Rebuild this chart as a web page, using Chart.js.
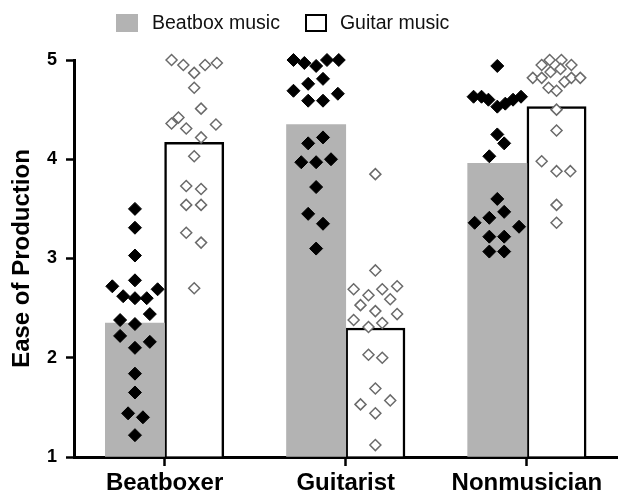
<!DOCTYPE html>
<html>
<head>
<meta charset="utf-8">
<script src="https://cdn.jsdelivr.net/npm/chart.js@4.4.1/dist/chart.umd.min.js"></script>
<style>
  html, body { margin: 0; padding: 0; background: #fff; overflow: hidden; }
  #wrap { position: relative; width: 625px; height: 498px; }
  #legend {
    position: absolute; left: 116px; top: 11px; display: flex; align-items: center;
    font-family: "Liberation Sans", Arial, sans-serif; font-size: 19.5px; color: #111;
  }
  .box { width: 22px; height: 18px; box-sizing: border-box; margin-right: 14px; }
  .gray { background: #b3b3b3; }
  .white { background: #fff; border: 2px solid #000; margin-left: 25px; margin-right: 13px; }
</style>
</head>
<body>
<div id="wrap">
  <canvas id="myChart" width="625" height="498"></canvas>
  <div id="legend"></div>
</div>
<script>
const groups = ["Beatboxer", "Guitarist", "Nonmusician"];
const seriesNames = ["Beatbox music", "Guitar music"];
const beatboxMeans = [2.35, 4.35, 3.96];
const guitarMeans = [4.17, 2.30, 4.53];
const yTicks = [1, 2, 3, 4, 5];

// single ratings (y) and their sideways spread (in category widths)
const beatboxerBeatbox = [3.50, 3.31, 3.03, 2.78, 2.72, 2.69, 2.62, 2.60, 2.60, 2.44, 2.38, 2.34, 2.22, 2.16, 2.10, 1.84, 1.65, 1.44, 1.40, 1.22];
const beatboxerBeatboxJit = [0, 0, 0, 0, -0.125, 0.125, -0.065, 0, 0.065, 0.082, -0.082, 0, -0.082, 0.082, 0, 0, 0, -0.038, 0.044, 0];
const beatboxerGuitar = [5.00, 4.95, 4.87, 4.95, 4.97, 4.72, 4.51, 4.42, 4.36, 4.31, 4.35, 4.22, 4.03, 3.73, 3.70, 3.54, 3.54, 3.26, 3.16, 2.70];
const beatboxerGuitarJit = [-0.125, -0.06, 0, 0.06, 0.125, 0, 0.038, -0.087, -0.125, -0.044, 0.12, 0.038, 0, -0.044, 0.038, -0.044, 0.038, -0.044, 0.038, 0];

const guitaristBeatbox = [5.00, 4.97, 4.94, 5.00, 5.00, 4.81, 4.76, 4.69, 4.59, 4.59, 4.66, 4.22, 4.16, 3.97, 3.97, 4.00, 3.72, 3.45, 3.35, 3.10];
const guitaristBeatboxJit = [-0.125, -0.065, 0, 0.06, 0.125, 0.038, -0.044, -0.125, -0.044, 0.038, 0.12, 0.038, -0.044, -0.082, 0, 0.082, 0, -0.044, 0.038, 0];
const guitaristGuitar = [3.85, 2.88, 2.69, 2.63, 2.69, 2.72, 2.59, 2.53, 2.47, 2.44, 2.38, 2.31, 2.35, 2.03, 2.00, 1.69, 1.53, 1.57, 1.44, 1.12];
const guitaristGuitarJit = [0, 0, -0.12, -0.038, 0.038, 0.12, 0.082, -0.082, 0, 0.12, -0.12, -0.038, 0.038, -0.038, 0.038, 0, -0.082, 0.082, 0, 0];

const nonmusBeatbox = [4.94, 4.63, 4.63, 4.60, 4.53, 4.56, 4.60, 4.63, 4.25, 4.16, 4.03, 3.60, 3.47, 3.41, 3.36, 3.32, 3.22, 3.22, 3.07, 3.07];
const nonmusBeatboxJit = [0, -0.131, -0.087, -0.049, 0, 0.044, 0.087, 0.131, 0, 0.038, -0.044, 0, 0.038, -0.044, -0.125, 0.12, -0.044, 0.038, -0.044, 0.038];
const nonmusGuitar = [4.95, 5.00, 5.00, 4.95, 4.82, 4.82, 4.88, 4.91, 4.78, 4.82, 4.82, 4.72, 4.69, 4.50, 4.29, 3.98, 3.88, 3.88, 3.54, 3.36];
const nonmusGuitarJit = [-0.082, -0.038, 0.027, 0.082, -0.131, -0.082, -0.033, 0.022, 0.044, 0.082, 0.131, -0.044, 0, 0, 0, -0.082, 0, 0.076, 0, 0];

const beatboxPoints = [[beatboxerBeatbox, beatboxerBeatboxJit], [guitaristBeatbox, guitaristBeatboxJit], [nonmusBeatbox, nonmusBeatboxJit]];
const guitarPoints = [[beatboxerGuitar, beatboxerGuitarJit], [guitaristGuitar, guitaristGuitarJit], [nonmusGuitar, nonmusGuitarJit]];

// one bar is this much of a category wide, the two bars touch
const barFrac = 0.327;
const barShift = barFrac / 2;
const font = '"Liberation Sans", Arial, sans-serif';

// html legend
const legend = document.querySelector("#legend");
legend.innerHTML =
    '<span class="box gray"></span><span>' + seriesNames[0] + '</span>' +
    '<span class="box white"></span><span>' + seriesNames[1] + '</span>';

const toPoints = function (list, shift) {
    let out = [];
    list.forEach((pair, g) => {
        pair[0].forEach((v, i) => {
            out.push({ x: g + shift + pair[1][i], y: v });
        });
    });
    return out;
};

const toBars = function (means, shift) {
    return means.map((v, g) => ({ x: g + shift, y: v }));
};

const ctx = document.querySelector("#myChart");

// bars sit on their own hidden linear axis and are not grouped,
// offset must be off there or the axis gets stretched
new Chart(ctx, {
    data: {
        labels: groups,
        datasets: [
            {
                type: "bar",
                label: seriesNames[0],
                data: toBars(beatboxMeans, -barShift),
                xAxisID: "xb",
                grouped: false,
                categoryPercentage: 1,
                barPercentage: 1,
                base: 1,
                backgroundColor: "#b3b3b3",
                borderWidth: 0,
                order: 2,
            },
            {
                type: "bar",
                label: seriesNames[1],
                data: toBars(guitarMeans, barShift),
                xAxisID: "xb",
                grouped: false,
                categoryPercentage: 1,
                barPercentage: 1,
                base: 1,
                backgroundColor: "#ffffff",
                borderColor: "#000000",
                borderWidth: 2.5,
                order: 2,
            },
            {
                type: "scatter",
                data: toPoints(beatboxPoints, -barShift),
                xAxisID: "xs",
                pointStyle: "rectRot",
                pointRadius: 6.5,
                backgroundColor: "#000",
                borderColor: "#000",
                borderWidth: 1,
                clip: false,
                order: 1,
            },
            {
                type: "scatter",
                data: toPoints(guitarPoints, barShift),
                xAxisID: "xs",
                pointStyle: "rectRot",
                pointRadius: 5.5,
                backgroundColor: "#fff",
                borderColor: "#6a6a6a",
                borderWidth: 1.5,
                clip: false,
                order: 1,
            },
        ],
    },
    options: {
        responsive: false,
        animation: false,
        events: [],
        layout: { padding: { left: 8, right: 0, top: 60, bottom: 0 } },
        plugins: {
            legend: { display: false },
            tooltip: { enabled: false },
        },
        scales: {
            x: {
                type: "category",
                offset: true,
                grid: {
                    offset: false,
                    drawOnChartArea: false,
                    drawTicks: true,
                    tickLength: 9,
                    tickWidth: 2.5,
                    tickColor: "#000",
                },
                border: { color: "#000", width: 3 },
                ticks: {
                    color: "#000",
                    padding: 3,
                    font: { family: font, size: 24, weight: "bold" },
                },
                afterFit: (s) => { s.height = 41; },
            },
            xb: {
                type: "linear",
                display: false,
                offset: false,
                min: -0.5,
                max: groups.length - 0.5,
                afterBuildTicks: (s) => { s.ticks = [{ value: s.min }, { value: s.max }]; },
            },
            xs: {
                type: "linear",
                display: false,
                offset: false,
                min: -0.5,
                max: groups.length - 0.5,
            },
            y: {
                min: yTicks[0],
                max: yTicks[yTicks.length - 1],
                afterBuildTicks: (s) => { s.ticks = yTicks.map((v) => ({ value: v })); },
                grid: {
                    drawOnChartArea: false,
                    drawTicks: true,
                    tickLength: 8,
                    tickWidth: 2.5,
                    tickColor: "#000",
                },
                border: { color: "#000", width: 3 },
                ticks: {
                    color: "#000",
                    padding: 9,
                    font: { family: font, size: 18, weight: "bold" },
                },
                title: {
                    display: true,
                    text: "Ease of Production",
                    color: "#000",
                    padding: 0,
                    font: { family: font, size: 24, weight: "bold" },
                },
                afterFit: (s) => { s.width = 66; },
            },
        },
    },
});
</script>
</body>
</html>
